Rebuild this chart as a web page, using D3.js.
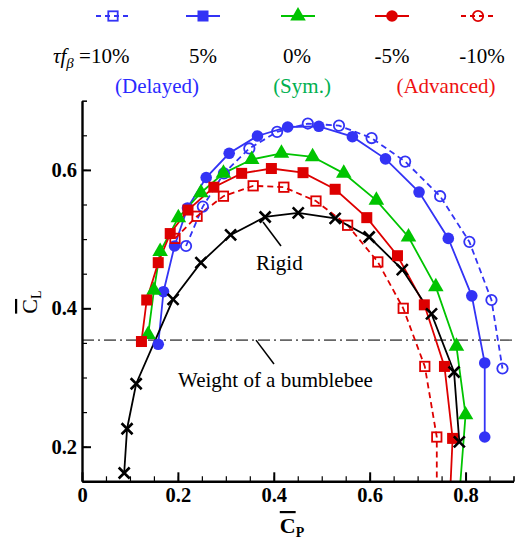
<!DOCTYPE html>
<html>
<head>
<meta charset="utf-8">
<script src="https://cdn.jsdelivr.net/npm/d3@7"></script>
<style>
  html, body { margin: 0; padding: 0; background: #fff; }
  svg { display: block; }
  text { font-family: "Liberation Serif", "Times New Roman", serif; }
</style>
</head>
<body>
<svg id="chart" width="517" height="540"></svg>
<script>
// ---------- data (CP, CL) ----------
const delayed10 = [[0.217,0.490],[0.252,0.547],[0.296,0.595],[0.349,0.631],[0.407,0.655],[0.471,0.667],[0.536,0.664],[0.604,0.646],[0.674,0.612],[0.747,0.562],[0.808,0.496],[0.854,0.412],[0.877,0.313]];
const delayed5 = [[0.159,0.348],[0.170,0.424],[0.193,0.490],[0.220,0.545],[0.259,0.589],[0.307,0.624],[0.366,0.649],[0.429,0.662],[0.494,0.663],[0.564,0.648],[0.633,0.616],[0.703,0.568],[0.764,0.501],[0.813,0.418],[0.840,0.321],[0.840,0.214]];
const sym0 = [[0.138,0.362],[0.150,0.426],[0.163,0.482],[0.201,0.531],[0.248,0.567],[0.295,0.595],[0.354,0.615],[0.416,0.624],[0.481,0.619],[0.546,0.595],[0.614,0.556],[0.681,0.503],[0.738,0.431],[0.781,0.345],[0.800,0.246],[0.786,0.120]];
const advanced5 = [[0.124,0.352],[0.135,0.412],[0.159,0.466],[0.184,0.508],[0.221,0.542],[0.275,0.575],[0.333,0.595],[0.395,0.602],[0.461,0.596],[0.528,0.572],[0.594,0.531],[0.658,0.476],[0.714,0.405],[0.756,0.316],[0.773,0.212],[0.767,0.120]];
const advanced10 = [[0.194,0.501],[0.240,0.533],[0.295,0.562],[0.357,0.577],[0.421,0.575],[0.488,0.555],[0.554,0.520],[0.617,0.467],[0.670,0.400],[0.715,0.316],[0.740,0.214],[0.740,0.120]];
const rigid = [[0.088,0.162],[0.094,0.226],[0.113,0.291],[0.190,0.413],[0.248,0.466],[0.310,0.506],[0.382,0.532],[0.451,0.538],[0.528,0.530],[0.599,0.503],[0.668,0.456],[0.729,0.392],[0.776,0.308],[0.787,0.207]];
const bumblebeeWeight = 0.354;
const xTicks = [0, 0.2, 0.4, 0.6, 0.8];
const yTicks = [0.2, 0.4, 0.6];
const legendLabels = ["=10%", "5%", "0%", "-5%", "-10%"];
const groupLabels = ["(Delayed)", "(Sym.)", "(Advanced)"];

// ---------- styles ----------
const BLUE = "#3333f5", GREEN = "#00c400", RED = "#dd0000";
const series = [
  {data: delayed10, color: BLUE, dash: "6,4", marker: "ocircle"},
  {data: delayed5, color: BLUE, dash: null, marker: "circle"},
  {data: sym0, color: GREEN, dash: null, marker: "triangle", offLast: true},
  {data: advanced10, color: RED, dash: "6,4", marker: "osquare", offLast: true},
  {data: advanced5, color: RED, dash: null, marker: "square", offLast: true},
  {data: rigid, color: "#000", dash: null, marker: "x"}
];

const svg = d3.select("#chart");
const x = d3.scaleLinear().domain([0, 0.9]).range([82, 513.5]);
const y = d3.scaleLinear().domain([0.15, 0.7]).range([481.3, 100.7]);

svg.append("defs").append("clipPath").attr("id", "clip")
  .append("rect").attr("x", x(0)).attr("y", y(0.7) - 10)
  .attr("width", x(0.9) - x(0)).attr("height", y(0.15) - y(0.7) + 10);

// bumblebee weight line
svg.append("line")
  .attr("x1", x(0)).attr("x2", x(0.9))
  .attr("y1", y(bumblebeeWeight)).attr("y2", y(bumblebeeWeight))
  .attr("stroke", "#666").attr("stroke-width", 1.6)
  .attr("stroke-dasharray", "12,4,2,4");

function drawMarker(g, type, cx, cy, color) {
  if (type === "circle") {
    g.append("circle").attr("cx", cx).attr("cy", cy).attr("r", 5.8).attr("fill", color);
  } else if (type === "ocircle") {
    g.append("circle").attr("cx", cx).attr("cy", cy).attr("r", 5.2)
      .attr("fill", "none").attr("stroke", color).attr("stroke-width", 1.8);
  } else if (type === "square") {
    g.append("rect").attr("x", cx - 5.5).attr("y", cy - 5.5).attr("width", 11).attr("height", 11).attr("fill", color);
  } else if (type === "osquare") {
    g.append("rect").attr("x", cx - 4.7).attr("y", cy - 4.7).attr("width", 9.4).attr("height", 9.4)
      .attr("fill", "none").attr("stroke", color).attr("stroke-width", 1.8);
  } else if (type === "triangle") {
    g.append("path").attr("transform", `translate(${cx},${cy})`)
      .attr("d", d3.symbol(d3.symbolTriangle, 105)()).attr("fill", color);
  } else if (type === "x") {
    const s = 5.5;
    g.append("path")
      .attr("d", `M${cx - s},${cy - s}L${cx + s},${cy + s}M${cx - s},${cy + s}L${cx + s},${cy - s}`)
      .attr("stroke", color).attr("stroke-width", 2.6).attr("fill", "none");
  }
}

const line = d3.line().x(d => x(d[0])).y(d => y(d[1]));
const plot = svg.append("g").attr("clip-path", "url(#clip)");
series.forEach(s => {
  plot.append("path").attr("d", line(s.data))
    .attr("fill", "none").attr("stroke", s.color).attr("stroke-width", 1.8)
    .attr("stroke-dasharray", s.dash);
});
series.forEach(s => {
  const pts = s.offLast ? s.data.slice(0, -1) : s.data;
  const g = plot.append("g");
  pts.forEach(d => drawMarker(g, s.marker, x(d[0]), y(d[1]), s.color));
});

// ---------- axes ----------
const axisColor = "#000";
const xMinor = d3.range(0, 0.9001, 0.05);
const yMinor = d3.range(0.15, 0.7001, 0.05);

const gx = svg.append("g").attr("transform", `translate(0,${y(0.15)})`);
gx.call(d3.axisBottom(x).tickValues(xMinor).tickSize(-5).tickFormat(""));
gx.call(g => g.selectAll(".tick line").attr("stroke-width", 1.2));
const gx2 = svg.append("g").attr("transform", `translate(0,${y(0.15)})`);
gx2.call(d3.axisBottom(x).tickValues(xTicks).tickSizeInner(-9).tickSizeOuter(0).tickPadding(6)
  .tickFormat(d => d === 0 ? "0" : d3.format(".1f")(d)));
gx2.select(".domain").attr("stroke-width", 2.4);
gx2.selectAll(".tick line").attr("stroke-width", 2);
gx2.selectAll(".tick text").attr("font-size", 20.5).attr("font-weight", "bold")
  .attr("font-family", "Liberation Serif, serif").attr("fill", "#000").attr("dy", "0.71em");

const gy = svg.append("g").attr("transform", `translate(${x(0)},0)`);
gy.call(d3.axisLeft(y).tickValues(yMinor).tickSize(-5).tickFormat(""));
gy.call(g => g.selectAll(".tick line").attr("stroke-width", 1.2));
const gy2 = svg.append("g").attr("transform", `translate(${x(0)},0)`);
gy2.call(d3.axisLeft(y).tickValues(yTicks).tickSizeInner(-9).tickSizeOuter(0).tickPadding(5)
  .tickFormat(d3.format(".1f")));
gy2.select(".domain").attr("stroke-width", 2.4);
gy2.selectAll(".tick line").attr("stroke-width", 2);
gy2.selectAll(".tick text").attr("font-size", 20.5).attr("font-weight", "bold")
  .attr("font-family", "Liberation Serif, serif").attr("fill", "#000");
svg.selectAll(".domain").attr("stroke", axisColor);

// axis titles
const xt = svg.append("text").attr("x", 292).attr("y", 533).attr("text-anchor", "middle")
  .attr("font-size", 22).attr("font-weight", "bold");
xt.append("tspan").text("C").style("text-decoration", "overline");
xt.append("tspan").text("P").attr("font-size", 14).attr("dy", 4);

const yt = svg.append("text").attr("transform", "translate(37,302) rotate(-90)").attr("text-anchor", "middle")
  .attr("font-size", 22);
yt.append("tspan").text("C").style("text-decoration", "overline");
yt.append("tspan").text("L").attr("font-size", 14).attr("dy", 4);

// annotations
svg.append("line").attr("x1", 263).attr("y1", 222).attr("x2", 281).attr("y2", 246)
  .attr("stroke", "#000").attr("stroke-width", 1.5);
svg.append("text").attr("x", 256).attr("y", 270).attr("font-size", 21).text("Rigid");
svg.append("line").attr("x1", 256).attr("y1", y(bumblebeeWeight)).attr("x2", 274).attr("y2", 364)
  .attr("stroke", "#000").attr("stroke-width", 1.5);
svg.append("text").attr("x", 178).attr("y", 387).attr("font-size", 21).text("Weight of a bumblebee");

// ---------- legend ----------
const legendItems = [
  {cx: 113, color: BLUE, dash: "5,4", marker: "osquare"},
  {cx: 203, color: BLUE, dash: null, marker: "square"},
  {cx: 298, color: GREEN, dash: null, marker: "triangle"},
  {cx: 392, color: RED, dash: null, marker: "circle"},
  {cx: 478, color: RED, dash: "5,4", marker: "ocircle"}
];
const lg = svg.append("g");
legendItems.forEach(it => {
  lg.append("line").attr("x1", it.cx - 17).attr("x2", it.cx + 17).attr("y1", 16).attr("y2", 16)
    .attr("stroke", it.color).attr("stroke-width", 1.8).attr("stroke-dasharray", it.dash);
  drawMarker(lg, it.marker, it.cx, 16, it.color);
});
const labelX = [null, 203, 297, 392, 482];
const t0 = lg.append("text").attr("x", 53).attr("y", 63).attr("font-size", 21);
t0.append("tspan").text("τf").attr("font-style", "italic");
t0.append("tspan").text("β").attr("font-style", "italic").attr("font-size", 15).attr("dy", 5);
t0.append("tspan").text(" " + legendLabels[0]).attr("dy", -5);
for (let i = 1; i < 5; i++) {
  lg.append("text").attr("x", labelX[i]).attr("y", 63).attr("text-anchor", "middle")
    .attr("font-size", 21).text(legendLabels[i]);
}
const groupX = [157, 302, 446];
const groupColor = ["#2a2aff", "#00b050", "#ee1111"];
groupLabels.forEach((t, i) => {
  lg.append("text").attr("x", groupX[i]).attr("y", 93).attr("text-anchor", "middle")
    .attr("font-size", 21).attr("fill", groupColor[i]).text(t);
});
</script>
</body>
</html>
